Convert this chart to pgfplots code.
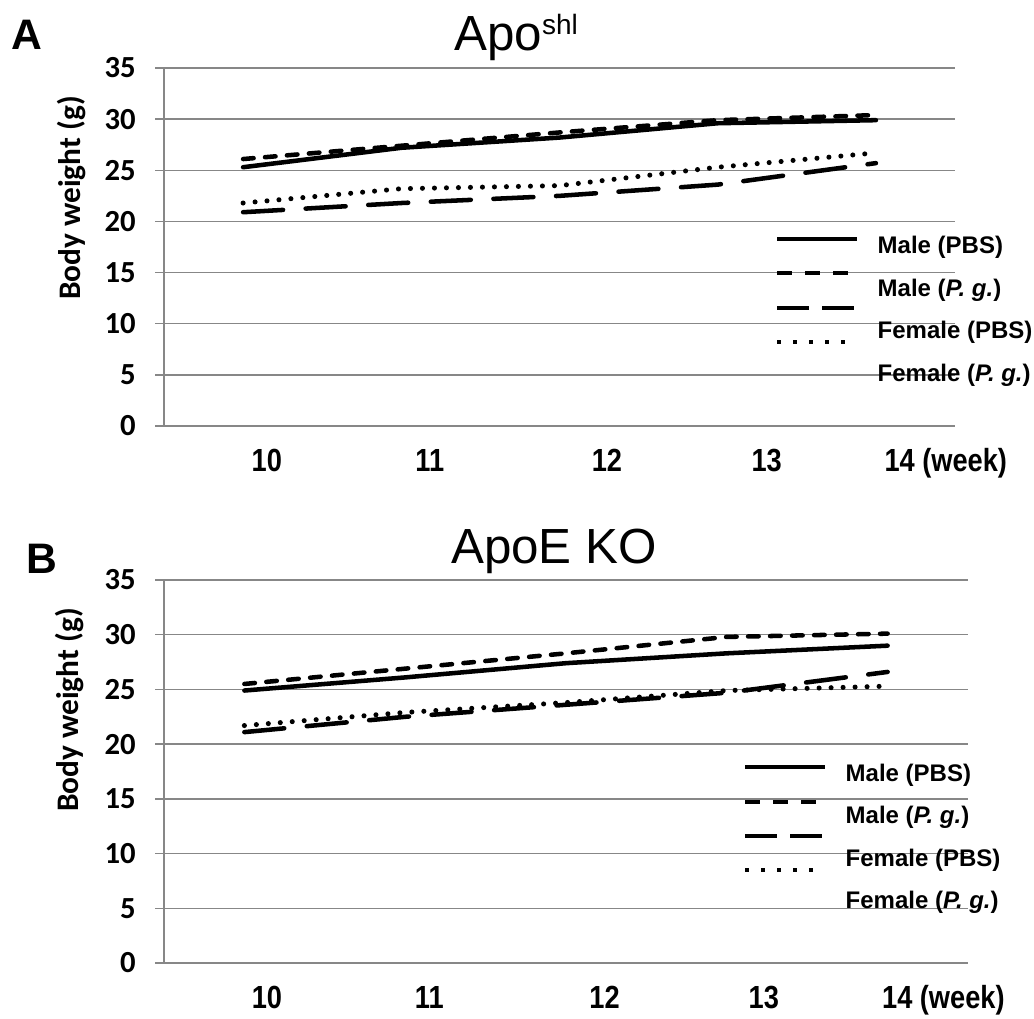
\documentclass[border=0pt]{standalone}
\usepackage{fontspec}
\setmainfont{Liberation Sans}
\newfontfamily\calibri{Carlito}
\newfontfamily\narrowsans[FakeStretch=0.85]{Liberation Sans}
\usepackage{pgfplots}
\usepackage{pgfplotstable}
\pgfplotsset{compat=1.18}
\definecolor{gridgray}{HTML}{878787}

% week index 0..4 = weeks 10..14
\pgfplotstableread{
wk mpbs mpg  fpbs fpg
0  25.3 26.1 20.9 21.8
1  27.2 27.4 21.8 23.2
2  28.2 28.7 22.5 23.5
3  29.6 29.9 23.6 25.3
4  29.9 30.4 25.7 26.7
}\dataA

\pgfplotstableread{
wk mpbs mpg  fpbs fpg
0  24.9 25.5 21.1 21.7
1  26.1 26.9 22.5 22.9
2  27.4 28.3 23.6 23.8
3  28.3 29.8 24.7 24.9
4  29.0 30.1 26.6 25.3
}\dataB

\tikzset{
  mpbs/.style={black, line width=3.4pt, line cap=round, line join=round},
  mpg/.style={mpbs, dash pattern=on 7.9pt off 8.6pt},
  fpbs/.style={mpbs, dash pattern=on 30pt off 17pt},
  fpg/.style={mpbs, line width=3.8pt, dash pattern=on 0pt off 9pt},
  lgbase/.style={black, line width=3pt},
}

\pgfplotsset{
  panel/.style={
    anchor=north west, scale only axis, clip=false,
    xmin=-0.5, xmax=4.5, ymin=0, ymax=35,
    ytick={0,5,...,35},
    axis lines=left,
    axis line style={draw=gridgray, line width=1pt, -},
    ymajorgrids, major grid style={draw=gridgray, line width=1pt},
    tick align=outside, major tick length=6.75pt,
    ytick style={draw=gridgray, line width=1pt},
    xtick style={draw=none},
    xticklabels={10,11,12,13,14\rlap{ (week)}},
    xticklabel style={font=\narrowsans\bfseries\fontsize{24}{24}\selectfont,
      anchor=base, yshift=-27pt},
    yticklabel style={font=\calibri\bfseries\fontsize{23}{23}\selectfont, xshift=-11pt},
    /pgf/number format/assume math mode=true,
  },
}

\begin{document}
\begin{tikzpicture}
\useasboundingbox (0,0) rectangle (775.5pt,-763.5pt);

% panel A
\begin{axis}[panel, at={(123pt,-51pt)}, width=593.25pt, height=268.5pt,
  xtick={0.15,1.18,2.30,3.31,4.15}]
  \addplot[mpbs] table[x=wk, y=mpbs] {\dataA};
  \addplot[mpg]  table[x=wk, y=mpg]  {\dataA};
  \addplot[fpbs] table[x=wk, y=fpbs] {\dataA};
  \addplot[fpg]  table[x=wk, y=fpg]  {\dataA};
\end{axis}

% panel B
\begin{axis}[panel, at={(123pt,-435pt)}, width=603pt, height=287.25pt,
  xtick={0.14,1.15,2.24,3.23,4.06}]
  \addplot[mpbs] table[x=wk, y=mpbs] {\dataB};
  \addplot[mpg]  table[x=wk, y=mpg]  {\dataB};
  \addplot[fpbs] table[x=wk, y=fpbs] {\dataB};
  \addplot[fpg]  table[x=wk, y=fpg]  {\dataB};
\end{axis}

\begin{scope}[x=0.75pt, y=-0.75pt]
  % panel letters, titles, y labels
  \node[font=\bfseries\fontsize{32}{32}\selectfont] at (27,35) {A};
  \node[font=\bfseries\fontsize{32}{32}\selectfont] at (42,559) {B};
  \node[anchor=base, font=\fontsize{37}{37}\selectfont] at (516,50)
    {Apo\raisebox{12pt}{\fontsize{21}{21}\selectfont shl}};
  \node[anchor=base, font=\fontsize{37}{37}\selectfont] at (554,563) {ApoE KO};
  \node[rotate=90, font=\calibri\bfseries\fontsize{23.5}{23.5}\selectfont] at (72,198) {Body weight (g)};
  \node[rotate=90, font=\calibri\bfseries\fontsize{23.5}{23.5}\selectfont] at (70,710) {Body weight (g)};

  % legend A
  \draw[lgbase] (777,239) -- (857,239);
  \draw[lgbase, dash pattern=on 11.25pt off 9.75pt] (777,273) -- (849,273);
  \draw[lgbase, dash pattern=on 24pt off 9.75pt] (777,308) -- (855,308);
  \draw[lgbase, dash pattern=on 3pt off 9pt] (777,342) -- (845,342);
  \begin{scope}[every node/.style={anchor=west, font=\bfseries\fontsize{18}{18}\selectfont}]
    \node at (873,247) {Male (PBS)};
    \node at (873,290) {Male (\textit{P. g.})};
    \node at (873,332) {Female (PBS)};
    \node at (873,375) {Female (\textit{P. g.})};
  \end{scope}

  % legend B
  \draw[lgbase] (745,767) -- (825,767);
  \draw[lgbase, dash pattern=on 11.25pt off 9.75pt] (745,802) -- (817,802);
  \draw[lgbase, dash pattern=on 24pt off 9.75pt] (745,836) -- (823,836);
  \draw[lgbase, dash pattern=on 3pt off 9pt] (745,870) -- (813,870);
  \begin{scope}[every node/.style={anchor=west, font=\bfseries\fontsize{18}{18}\selectfont}]
    \node at (841,775) {Male (PBS)};
    \node at (841,817) {Male (\textit{P. g.})};
    \node at (841,860) {Female (PBS)};
    \node at (841,902) {Female (\textit{P. g.})};
  \end{scope}
\end{scope}
\end{tikzpicture}
\end{document}
